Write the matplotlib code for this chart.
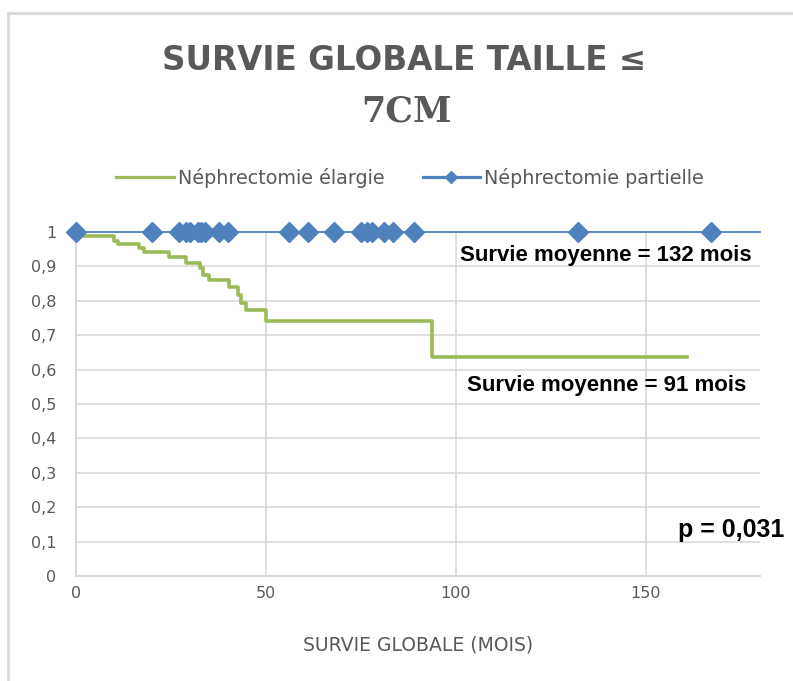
import matplotlib
matplotlib.use("Agg")
import matplotlib.pyplot as plt
from matplotlib.lines import Line2D

# ---- data ----
elargie_t = [0, 10, 11, 16.5, 18, 24.5, 29, 32.5, 33.5, 35, 40.3, 42.5, 43.5, 44.7, 50, 93.8, 160.8]
elargie_s = [0.987, 0.975, 0.964, 0.953, 0.941, 0.928, 0.911, 0.894, 0.875, 0.860, 0.841, 0.817, 0.795, 0.773, 0.741, 0.637, 0.637]
partielle_t = [0, 20, 27, 29, 30, 32, 33, 34, 37.5, 40, 56, 61, 68, 75, 76.5, 78, 81, 83.5, 89, 132, 167]
partielle_end = 180
partielle_s = [1.0] * len(partielle_t)
series_names = ["Néphrectomie élargie", "Néphrectomie partielle"]
x_ticks = [0, 50, 100, 150]
y_ticks = [0, 0.1, 0.2, 0.3, 0.4, 0.5, 0.6, 0.7, 0.8, 0.9, 1.0]
y_labels = ["0", "0,1", "0,2", "0,3", "0,4", "0,5", "0,6", "0,7", "0,8", "0,9", "1"]

GREEN = "#9bbb59"
BLUE = "#4f81bd"
GRAY = "#595959"
GRID = "#d9d9d9"
SANS = ["DejaVu Sans"]
BOLD = ["Liberation Sans", "DejaVu Sans"]

fig = plt.figure(figsize=(7.93, 6.81), dpi=100)
fig.patch.set_facecolor("white")

# outer chart border (top and left visible)
fig.add_artist(Line2D([8/793, 8/793], [0, 1 - 13/681], transform=fig.transFigure, color=GRID, lw=2))
fig.add_artist(Line2D([8/793, 1], [1 - 13/681, 1 - 13/681], transform=fig.transFigure, color=GRID, lw=2))

ax = fig.add_axes([76/793, 1 - 576/681, (760 - 76)/793, (576 - 232)/681])
ax.set_xlim(0, 180)
ax.set_ylim(0, 1)

ax.step(elargie_t, elargie_s, where="post", color=GREEN, lw=2.6, zorder=3, clip_on=False)
ax.plot(partielle_t + [partielle_end], partielle_s + [1.0], color=BLUE, lw=1.3, zorder=4, clip_on=False)
ax.plot(partielle_t, partielle_s, linestyle="none", marker="D", markersize=10,
        color=BLUE, zorder=5, clip_on=False)

ax.set_xticks(x_ticks)
ax.set_yticks(y_ticks)
ax.set_yticklabels(y_labels)
ax.tick_params(axis="both", length=0, colors=GRAY, labelsize=11.5)
ax.tick_params(axis="x", pad=7)
ax.tick_params(axis="y", pad=14)
for lab in ax.get_xticklabels() + ax.get_yticklabels():
    lab.set_fontfamily(SANS)
ax.grid(True, color=GRID, lw=1.2)
ax.set_axisbelow(True)
for s in ["top", "right"]:
    ax.spines[s].set_visible(False)
for s in ["left", "bottom"]:
    ax.spines[s].set_color(GRID)
    ax.spines[s].set_linewidth(1.5)

ax.set_xlabel("SURVIE GLOBALE (MOIS)", color=GRAY, fontsize=13.5,
              fontfamily=SANS, labelpad=25)

# annotations
ax.text(139.5, 0.933, "Survie moyenne = 132 mois", fontsize=16, fontweight="bold",
        fontfamily=BOLD, ha="center", va="center", color="black")
ax.text(139.6, 0.555, "Survie moyenne = 91 mois", fontsize=16, fontweight="bold",
        fontfamily=BOLD, ha="center", va="center", color="black")
ax.text(186.5, 0.134, "p = 0,031", fontsize=18, fontweight="bold",
        fontfamily=BOLD, ha="right", va="center", color="black")

# title
fig.text(404/793, 1 - 61/681, "SURVIE GLOBALE TAILLE ≤", fontsize=23.5, fontweight="bold",
         fontfamily=["DejaVu Sans"], color=GRAY, ha="center", va="center")
fig.text(406/793, 1 - 111/681, "7CM", fontsize=25, fontweight="bold",
         fontfamily=["DejaVu Serif"], color=GRAY, ha="center", va="center")

# legend
handles = [Line2D([], [], color=GREEN, lw=2.3),
           Line2D([], [], color=BLUE, lw=2.3, marker="D", markersize=6)]
fig.legend(handles, series_names, loc="center", bbox_to_anchor=(410/793, 1 - 178/681),
           ncol=2, frameon=False, handlelength=3.0, handletextpad=0.2, columnspacing=2.0,
           prop={"family": SANS, "size": 13.8}, labelcolor=GRAY)

fig.savefig("out.png", dpi=100, facecolor="white")
